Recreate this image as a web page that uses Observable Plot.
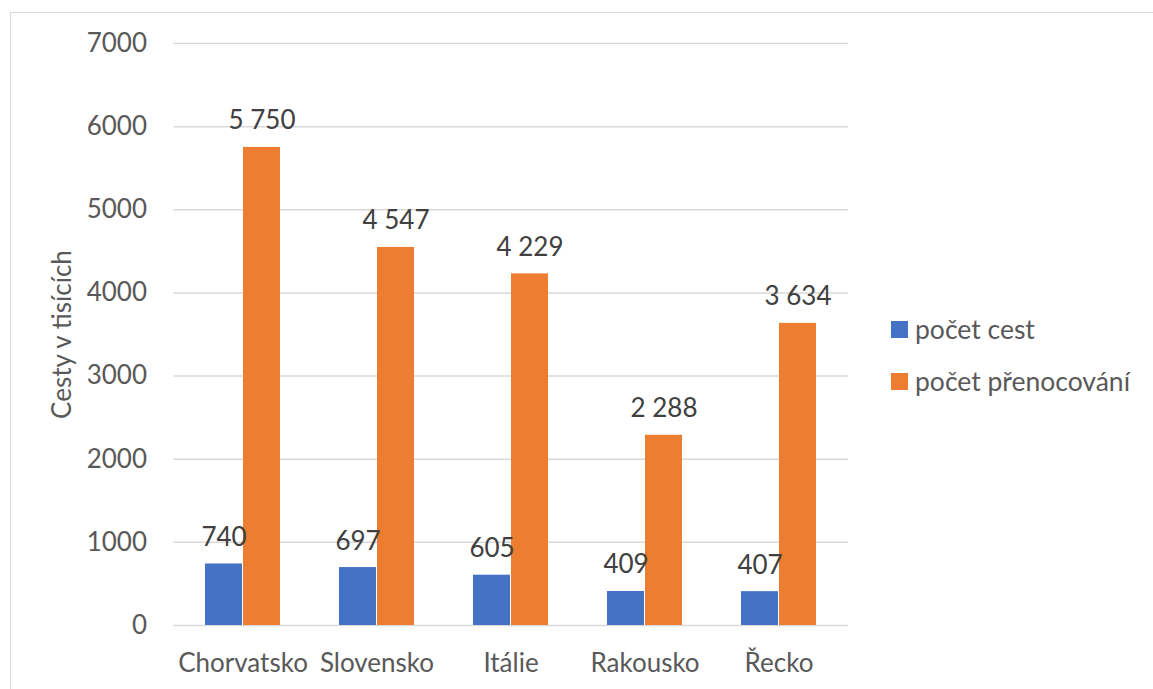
<!DOCTYPE html>
<html>
<head>
<meta charset="utf-8">
<script src="https://cdn.jsdelivr.net/npm/d3@7"></script>
<script src="https://cdn.jsdelivr.net/npm/@observablehq/plot@0.6"></script>
<style>
  html, body { margin: 0; padding: 0; background: #fff; }
  #wrap { position: relative; width: 1153px; height: 689px; overflow: hidden; font-family: Lato, "Open Sans", sans-serif; }
  #frame { position: absolute; left: 10px; top: 12px; width: 1200px; height: 800px; border-left: 1.5px solid #d9d9d9; border-top: 1.5px solid #d9d9d9; }
  #chart { position: absolute; left: 0; top: 0; }
  #legend { position: absolute; left: 891px; top: 312px; font-size: 26.5px; color: #595959; }
  .item { display: flex; align-items: center; height: 34px; margin-bottom: 18px; }
  .sw { width: 17px; height: 17px; margin-right: 7px; }
</style>
</head>
<body>
<div id="wrap">
  <div id="frame"></div>
  <div id="chart"></div>
  <div id="legend"></div>
</div>
<script>
const categories = ["Chorvatsko", "Slovensko", "Itálie", "Rakousko", "Řecko"];
const seriesNames = ["počet cest", "počet přenocování"];
const trips = [740, 697, 605, 409, 407];
const nights = [5750, 4547, 4229, 2288, 3634];
const seriesColors = ["#4472C4", "#ED7D31"];
const yTicks = [0, 1000, 2000, 3000, 4000, 5000, 6000, 7000];
const yTitle = "Cesty v tisících";

const fmt = d3.formatLocale({decimal: ",", thousands: " ", grouping: [3], currency: ["", ""]}).format(",d");

const tripsData = categories.map((c, i) => ({category: c, value: trips[i]}));
const nightsData = categories.map((c, i) => ({category: c, value: nights[i]}));

const font = "Lato, 'Open Sans', sans-serif";

const chart = Plot.plot({
  width: 1153,
  height: 689,
  marginLeft: 173.5,
  marginRight: 305,
  marginTop: 43,
  marginBottom: 64,
  style: {fontFamily: font, fontSize: "26px", color: "#595959", background: "transparent"},
  x: {type: "band", domain: categories, paddingInner: 0.437, paddingOuter: 0.2185, align: 0.5},
  y: {domain: [0, 7000]},
  marks: [
    Plot.gridY(yTicks, {stroke: "#d9d9d9", strokeOpacity: 1, strokeWidth: 1.5}),
    Plot.barY(tripsData, {x: "category", y: "value", fill: seriesColors[0], insetRight: 38}),
    Plot.barY(nightsData, {x: "category", y: "value", fill: seriesColors[1], insetLeft: 38}),
    Plot.text(tripsData, {x: "category", y: "value", text: d => fmt(d.value), dx: -19, dy: -18, lineAnchor: "bottom", fill: "#404040", fontSize: 26}),
    Plot.text(nightsData, {x: "category", y: "value", text: d => fmt(d.value), dx: 19, dy: -18, lineAnchor: "bottom", fill: "#404040", fontSize: 26}),
    Plot.axisY({ticks: yTicks, tickSize: 0, tickPadding: 27, label: null, tickFormat: d => String(d), fill: "#595959"}),
    Plot.axisX({tickSize: 0, tickPadding: 28.5, label: null, fill: "#595959"}),
    Plot.text([yTitle], {frameAnchor: "left", textAnchor: "middle", lineAnchor: "middle", rotate: -90, dx: -111.5, fill: "#595959", fontSize: 26})
  ]
});
document.getElementById("chart").appendChild(chart);

const legend = document.getElementById("legend");
seriesNames.forEach((name, i) => {
  const item = document.createElement("div");
  item.className = "item";
  const sw = document.createElement("div");
  sw.className = "sw";
  sw.style.background = seriesColors[i];
  const label = document.createElement("span");
  label.textContent = name;
  item.appendChild(sw);
  item.appendChild(label);
  legend.appendChild(item);
});
</script>
</body>
</html>
